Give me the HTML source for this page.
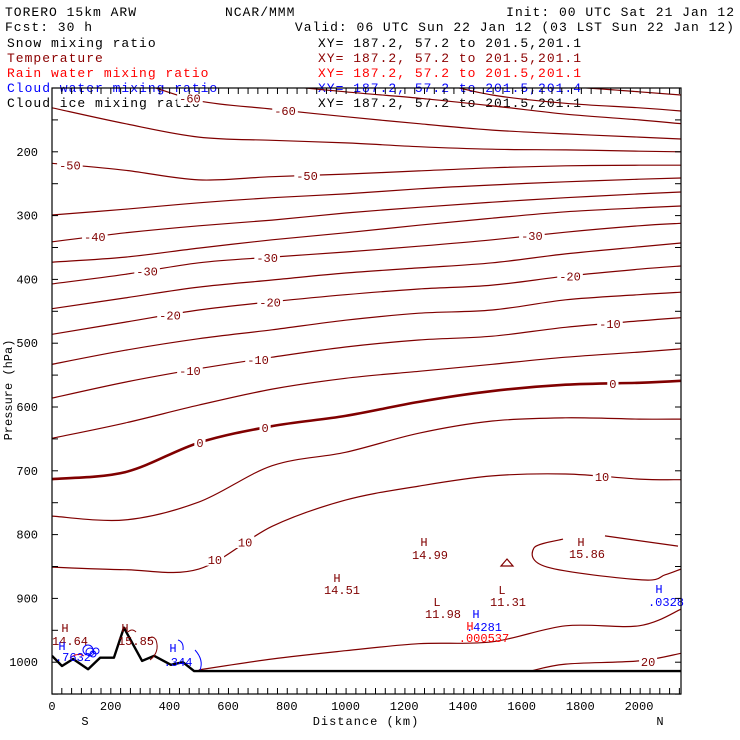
<!DOCTYPE html>
<html><head><meta charset="utf-8">
<style>
html,body{margin:0;padding:0;background:#fff;}
svg{display:block;}
text{font-family:"Liberation Mono",monospace;}
</style></head>
<body>
<svg id="chart" width="740" height="740" viewBox="0 0 740 740">
 <g font-size="13" letter-spacing="1">
  <text x="5" y="16">TORERO  15km ARW</text>
  <text x="225" y="16">NCAR/MMM</text>
  <text x="735" y="16" text-anchor="end">Init: 00 UTC Sat 21 Jan 12</text>
  <text x="5" y="31">Fcst:   30 h</text>
  <text x="735" y="31" text-anchor="end">Valid: 06 UTC Sun 22 Jan 12 (03 LST Sun 22 Jan 12)</text>
  <text x="7" y="47" fill="#000">Snow mixing ratio</text>
  <text x="318" y="47" fill="#000">XY= 187.2, 57.2 to 201.5,201.1</text>
  <text x="7" y="62" fill="#8b0000">Temperature</text>
  <text x="318" y="62" fill="#8b0000">XY= 187.2, 57.2 to 201.5,201.1</text>
  <text x="7" y="77" fill="#ff0000">Rain water mixing ratio</text>
  <text x="318" y="77" fill="#ff0000">XY= 187.2, 57.2 to 201.5,201.1</text>
  <text x="7" y="92" fill="#0000ff">Cloud water mixing ratio</text>
  <text x="318" y="92" fill="#0000ff">XY= 187.2, 57.2 to 201.5,201.4</text>
  <text x="7" y="107" fill="#000">Cloud ice mixing ratio</text>
  <text x="318" y="107" fill="#000">XY= 187.2, 57.2 to 201.5,201.1</text>
 </g>
 <defs><clipPath id="plotclip"><rect x="52" y="88" width="629" height="606"/></clipPath></defs>
 <g id="contours" clip-path="url(#plotclip)"></g>
 <g id="annot" font-size="12"></g>
 <rect x="52" y="88" width="629" height="606" fill="none" stroke="#000" stroke-width="1.2"/>
 <g id="axes" font-size="12"></g>
 <text x="12" y="390" font-size="12" text-anchor="middle" transform="rotate(-90 12 390)">Pressure (hPa)</text>
 <text x="366" y="725" font-size="12" text-anchor="middle" letter-spacing="1">Distance (km)</text>
 <text x="85" y="725" font-size="12" text-anchor="middle">S</text>
 <text x="660" y="725" font-size="12" text-anchor="middle">N</text>
</svg>
<script>
const dists = [0,250,500,750,1000,1250,1500,1750,2000,2143];
const tempLevels = [-75,-70,-65,-60,-55,-50,-45,-40,-35,-30,-25,-20,-15,-10,-5,0,5,10];
const pM75 = [60,65,70,75,80,85,95,98,106,111];
const pM70 = [60,65,70,75,80,87,111,124,131,136];
const pM65 = [60,65,75,94,106,116,128,141,150,156];
const pM60 = [80,87,120,133,145,156,166,172,177,180];
const pM55 = [131,156,177,182,186,192,196,197,199,200];
const pM50 = [218,229,244,239,235,230,225,222,221,221];
const pM45 = [299,290,280,272,266,258,252,247,243,241];
const pM40 = [341,327,316,307,296,287,279,272,266,263];
const pM35 = [373,365,351,338,327,315,304,294,288,285];
const pM30 = [407,392,374,365,357,348,338,326,316,312];
const pM25 = [446,429,412,401,390,382,374,360,349,343];
const pM20 = [486,467,448,435,424,415,409,395,384,379];
const pM15 = [533,511,493,479,464,453,448,432,424,420];
const pM10 = [586,561,540,522,506,495,489,475,465,460];
const pM5 = [649,625,597,572,555,544,533,522,514,509];
const p0 = [713,702,656,630,614,592,575,565,562,559];
const p5 = [771,777,749,692,671,641,622,617,619,619];
const p10 = [851,855,854,787,746,724,708,705,713,714];
const tempSeries = [pM75,pM70,pM65,pM60,pM55,pM50,pM45,pM40,pM35,pM30,pM25,pM20,pM15,pM10,pM5,p0,p5,p10];
const d15low = [500,750,1000,1250,1500,1750,2000,2143];
const p15low = [1012,995,982,971,968,943,943,917];
const d15a = [1741,1642,1687,2010,2089,2143];
const p15a = [807,821,851,871,863,854];
const d15b = [1884,2133];
const p15b = [802,818];
const d20 = [1630,1750,2000,2143];
const p20 = [1014,1003,998,986];
const terrainD = [0,34,72,123,164,211,245,307,348,405,446,484,2143];
const terrainP = [990,1006,995,1011,993,993,946,998,990,1004,1000,1014,1014];
const xTicks = [0,200,400,600,800,1000,1200,1400,1600,1800,2000];
const yTicks = [200,300,400,500,600,700,800,900,1000];
const labelT = [-60,-60,-50,-50,-40,-30,-30,-30,-20,-20,-20,-10,-10,-10,0,0,0,10,10,10];
const labelD = [470,794,61,869,146,324,733,1635,402,743,1765,470,702,1901,504,726,1911,555,658,1874];

const X0=52, XS=0.2935, Y0=88, YS=0.638;
function xOf(d){return X0+d*XS;}
function yOf(p){return Y0+(p-100)*YS;}
const NS='http://www.w3.org/2000/svg';
function mk(tag,attrs,parent){const e=document.createElementNS(NS,tag);for(const k in attrs)e.setAttribute(k,attrs[k]);parent.appendChild(e);return e;}
function smoothPath(pts){
  if(pts.length<3)return 'M'+pts.map(p=>p[0].toFixed(1)+','+p[1].toFixed(1)).join('L');
  let s='M'+pts[0][0].toFixed(1)+','+pts[0][1].toFixed(1);
  for(let i=0;i<pts.length-1;i++){
    const p0=pts[Math.max(0,i-1)],p1=pts[i],p2=pts[i+1],p3=pts[Math.min(pts.length-1,i+2)];
    const c1=[p1[0]+(p2[0]-p0[0])/6,p1[1]+(p2[1]-p0[1])/6];
    const c2=[p2[0]-(p3[0]-p1[0])/6,p2[1]-(p3[1]-p1[1])/6];
    s+='C'+c1[0].toFixed(1)+','+c1[1].toFixed(1)+' '+c2[0].toFixed(1)+','+c2[1].toFixed(1)+' '+p2[0].toFixed(1)+','+p2[1].toFixed(1);
  }
  return s;
}
const cg=document.getElementById('contours');
tempSeries.forEach((arr,i)=>{
  const pts=dists.map((d,j)=>[xOf(d),yOf(arr[j])]);
  const el=mk('path',{d:smoothPath(pts),fill:'none',stroke:'#800000','stroke-width':tempLevels[i]===0?2.6:1.2},cg);
  
  
});
[[d15low,p15low,'isotherm-15-low'],[d15a,p15a,'isotherm-15-closed'],[d15b,p15b,'isotherm-15-upper'],[d20,p20,'isotherm-20']].forEach(s=>{
  const pts=s[0].map((d,j)=>[xOf(d),yOf(s[1][j])]);
  const el=mk('path',{d:smoothPath(pts),fill:'none',stroke:'#800000','stroke-width':1.2},cg);
  
  
});
// small bump contour
{const el=mk('path',{d:'M501,566 L507,559 L513,566 Z',fill:'none',stroke:'#800000','stroke-width':1.2},cg);

}
// terrain
{const pts=terrainD.map((d,j)=>[xOf(d),yOf(terrainP[j])]);
const el=mk('path',{d:'M'+pts.map(p=>p[0].toFixed(1)+','+p[1].toFixed(1)).join('L'),fill:'none',stroke:'#000','stroke-width':2.4,'stroke-linejoin':'round'},cg);

}
// blue cloud blobs
[[90,652,4],[93,654,3],[88,650,5],[96,651,3]].forEach(c=>{
  const el=mk('circle',{cx:c[0],cy:c[1],r:c[2],fill:'none',stroke:'#0000ff','stroke-width':1},cg);
  
  
});
[['M178,640 Q184,642 183,650','#0000ff'],['M195,650 Q204,660 200,670','#0000ff'],['M128,632 Q132,628 136,632','#800000'],['M150,660 Q160,652 156,640 Q152,634 148,640','#800000'],['M70,658 Q78,652 84,656','#ff0000']].forEach(a=>{
  const el=mk('path',{d:a[0],fill:'none',stroke:a[1],'stroke-width':1},cg);
  
  
});
// contour labels
const ag=document.getElementById('annot');
function seriesFor(t){return tempSeries[tempLevels.indexOf(t)];}
labelT.forEach((t,i)=>{
  const d=labelD[i];
  let arrD=dists, arrP=seriesFor(t);
  if(t===20){arrD=d20;arrP=p20;}
  let k=0; while(k<arrD.length-2 && arrD[k+1]<d)k++;
  const f=(d-arrD[k])/(arrD[k+1]-arrD[k]);
  const p=arrP[k]+f*(arrP[k+1]-arrP[k]);
  const x=xOf(d), y=yOf(p);
  const txt=String(t);
  const w=txt.length*7.2+4;
  const r=mk('rect',{x:x-w/2,y:y-6,width:w,height:12,fill:'#fff'},ag);
  
  
  const tx=mk('text',{x:x,y:y+4.5,'text-anchor':'middle',fill:'#800000'},ag);
  tx.textContent=txt;
  
  
});
{const d=2031;const x=xOf(d),y=yOf(999);
const r=mk('rect',{x:x-9,y:y-6,width:18,height:12,fill:'#fff'},ag);


const tx=mk('text',{x:x,y:y+4.5,'text-anchor':'middle',fill:'#800000'},ag);
tx.textContent='20';

}
// extrema annotations
const marks=[['H',65,632,'#800000'],['14.64',70,645,'#800000'],['H',62,650,'#0000ff'],['.7632',73,661,'#0000ff'],
['H',125,632,'#800000'],['15.85',136,645,'#800000'],['H',173,652,'#0000ff'],['.344',178,666,'#0000ff'],
['H',337,582,'#800000'],['14.51',342,594,'#800000'],['H',424,546,'#800000'],['14.99',430,559,'#800000'],
['L',437,606,'#800000'],['11.98',443,618,'#800000'],['L',502,594,'#800000'],['11.31',508,606,'#800000'],
['H',476,618,'#0000ff'],['H',470,630,'#ff0000'],['.4281',484,631,'#0000ff'],['.000537',484,642,'#ff0000'],
['H',581,546,'#800000'],['15.86',587,558,'#800000'],['H',659,593,'#0000ff'],['.0328',666,606,'#0000ff']];
marks.forEach(m=>{
  const tx=mk('text',{x:m[1],y:m[2],'text-anchor':'middle',fill:m[3]},ag);
  tx.textContent=m[0];
  
  
});
// axes
const axg=document.getElementById('axes');
for(let d=0; d<=2143; d+=33.4){
  const x=xOf(d);
  const t1=mk('line',{x1:x,y1:694,x2:x,y2:688,stroke:'#000','stroke-width':1},axg);
  
  
  const t2=mk('line',{x1:x,y1:88,x2:x,y2:94,stroke:'#000','stroke-width':1},axg);
  
  
}
xTicks.forEach(v=>{
  const tx=mk('text',{x:xOf(v),y:710,'text-anchor':'middle'},axg);
  tx.textContent=String(v);
  
  
});
for(let p=150;p<=1050;p+=50){
  const y=yOf(p);
  const a=mk('line',{x1:52,y1:y,x2:58,y2:y,stroke:'#000','stroke-width':1},axg);
  
  
  const b=mk('line',{x1:675,y1:y,x2:681,y2:y,stroke:'#000','stroke-width':1},axg);
  
  
}
yTicks.forEach(v=>{
  const tx=mk('text',{x:38,y:yOf(v)+4,'text-anchor':'end'},axg);
  tx.textContent=String(v);
  
  
});
</script>
</body></html>
